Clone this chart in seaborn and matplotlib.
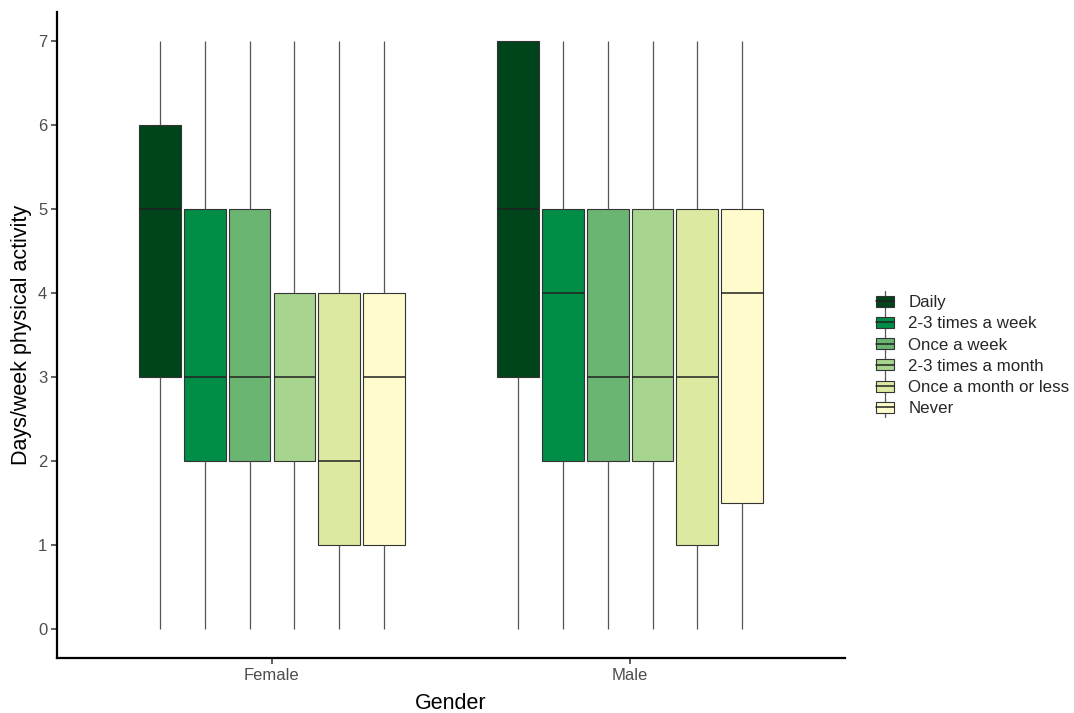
import matplotlib
matplotlib.use("Agg")
import matplotlib.pyplot as plt
from matplotlib.legend_handler import HandlerBase
from matplotlib.patches import Rectangle, Patch
from matplotlib.lines import Line2D
import pandas as pd
import seaborn as sns

# Five-number summaries of days/week of physical activity,
# by gender and by frequency of outdoor activity
genders = ["Female", "Male"]
frequencies = ["Daily", "2-3 times a week", "Once a week",
               "2-3 times a month", "Once a month or less", "Never"]
colors = ["#00441b", "#008d46", "#6bb573", "#a7d48e", "#dbeaa0", "#fffbcc"]

low_female = [0, 0, 0, 0, 0, 0]
q1_female = [3, 2, 2, 2, 1, 1]
median_female = [5, 3, 3, 3, 2, 3]
q3_female = [6, 5, 5, 4, 4, 4]
high_female = [7, 7, 7, 7, 7, 7]

low_male = [0, 0, 0, 0, 0, 0]
q1_male = [3, 2, 2, 2, 1, 1.5]
median_male = [5, 4, 3, 3, 3, 4]
q3_male = [7, 5, 5, 5, 5, 5]
high_male = [7, 7, 7, 7, 7, 7]

y_ticks = [0, 1, 2, 3, 4, 5, 6, 7]

summaries = {
    "Female": (low_female, q1_female, median_female, q3_female, high_female),
    "Male": (low_male, q1_male, median_male, q3_male, high_male),
}

rows = []
for g in genders:
    cols = summaries[g]
    for i, f in enumerate(frequencies):
        for v in (cols[0][i], cols[1][i], cols[2][i], cols[3][i], cols[4][i]):
            rows.append({"Gender": g, "Frequency": f, "Days": v})
df = pd.DataFrame(rows)

sns.set_theme(style="ticks")
plt.rcParams["font.family"] = ["Liberation Sans", "DejaVu Sans"]

fig = plt.figure(figsize=(10.74, 7.13), dpi=100)
ax = fig.add_axes([0.0531, 0.0771, 0.7337, 0.9061])

edge = "#333333"
sns.boxplot(
    data=df, x="Gender", y="Days", hue="Frequency",
    order=genders, hue_order=frequencies, palette=colors, saturation=1,
    width=0.75, gap=0.07, whis=(0, 100), linewidth=0.8, linecolor=edge,
    showcaps=False, legend=False, ax=ax,
    whiskerprops=dict(color="#555555", linewidth=0.9),
    medianprops=dict(color="#222222", linewidth=1.1),
)

ax.set_xlim(-0.6, 1.6)
ax.set_ylim(-0.35, 7.35)
ax.set_yticks(y_ticks)
ax.set_yticklabels([str(t) for t in y_ticks])

for s in ("top", "right"):
    ax.spines[s].set_visible(False)
for s in ("left", "bottom"):
    ax.spines[s].set_color("black")
    ax.spines[s].set_linewidth(1.6)

ax.tick_params(axis="both", length=4, width=1.1, color="#333333",
               labelcolor="#4d4d4d", labelsize=12, pad=3)
ax.set_xlabel("Gender", fontsize=15.5, color="black", labelpad=7.5)
ax.set_ylabel("Days/week physical activity", fontsize=15.5, color="black", labelpad=4)


class BoxKeyHandler(HandlerBase):
    """Legend key drawn like a small box-and-whisker glyph."""

    def create_artists(self, legend, orig_handle, xdescent, ydescent,
                       width, height, fontsize, trans):
        fc = orig_handle.get_facecolor()
        cx = -xdescent + width / 2
        bw = width * 0.9
        bh = height * 0.75
        by = -ydescent + (height - bh) / 2
        whisk = Line2D([cx, cx], [-ydescent - 2, -ydescent + height + 2],
                       color="#555555", linewidth=0.9, transform=trans)
        rect = Rectangle((cx - bw / 2, by), bw, bh, facecolor=fc,
                         edgecolor=edge, linewidth=0.8, transform=trans)
        med = Line2D([cx - bw / 2, cx + bw / 2],
                     [-ydescent + height / 2, -ydescent + height / 2],
                     color="#222222", linewidth=1.1, transform=trans)
        return [whisk, rect, med]


handles = [Patch(facecolor=c, edgecolor=edge) for c in colors]
fig.legend(handles, frequencies, handler_map={Patch: BoxKeyHandler()},
           loc="center left", bbox_to_anchor=(0.808, 0.502), frameon=False,
           fontsize=12.2, handlelength=1.2, handleheight=0.95,
           handletextpad=0.8, labelspacing=0.3, borderaxespad=0)

fig.savefig("out.png", dpi=100)
